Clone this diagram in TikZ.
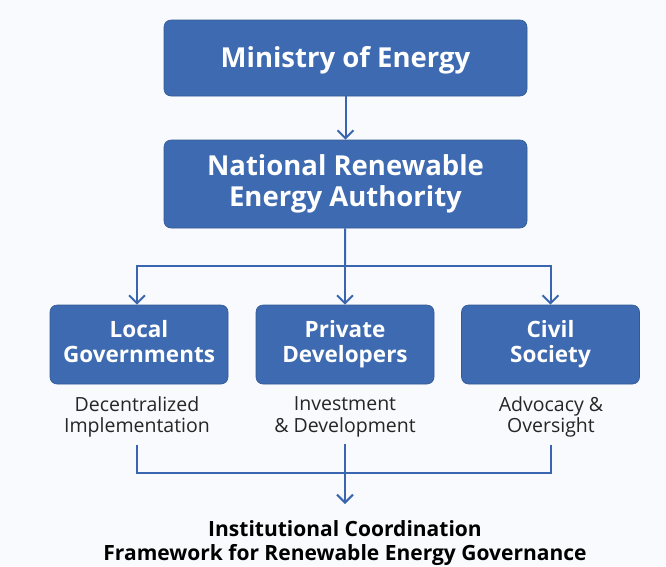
\documentclass[tikz,border=0pt]{standalone}
\usepackage{fontspec}
\setmainfont{Open Sans}
\usetikzlibrary{arrows.meta,positioning}
\definecolor{boxblue}{RGB}{61,106,176}
\definecolor{lineblue}{RGB}{58,102,176}
\definecolor{bgpaper}{RGB}{248,250,253}
\tikzset{
  unitbox/.style={draw=boxblue!85!black, line width=0.6pt, fill=boxblue, rounded corners=7pt,
    text=white, align=center, inner sep=0pt,
    execute at begin node={\vrule height 26.5pt width 0pt},
    execute at end node={\vrule depth 6.5pt width 0pt}},
  bigbox/.style={unitbox, minimum width=363pt, font=\bfseries\fontsize{27.5}{31}\selectfont},
  smallbox/.style={unitbox, minimum width=178pt, minimum height=79pt,
    font=\bfseries\fontsize{22.5}{25}\selectfont},
  roletext/.style={align=center, inner sep=0pt, text=black!85, font=\fontsize{19.5}{21.5}\selectfont,
    execute at begin node=\strut, execute at end node=\strut},
  wire/.style={draw=lineblue, line width=2pt},
  link/.style={wire, ->, >={Straight Barb[length=8pt,width=16pt]}},
}
\begin{document}
\begin{tikzpicture}[x=1pt,y=-1pt]
  \fill[bgpaper] (0,0) rectangle (666,566);
  % top of the chain
  \node[bigbox, minimum height=76pt] (ministry) at (345.5,58) {Ministry of Energy};
  \node[bigbox, minimum height=88pt] (nrea) at (345.5,184) {National Renewable\\Energy Authority};
  % the three partners
  \node[smallbox] (local) at (139,344.5) {Local\\Governments};
  \node[smallbox] (private) at (345,344.5) {Private\\Developers};
  \node[smallbox] (civil) at (550.5,344.5) {Civil\\Society};
  \node[roletext] (localrole) at (137,418) {Decentralized\\Implementation};
  \node[roletext] (privaterole) at (345,418) {Investment\\\& Development};
  \node[roletext] (civilrole) at (551,418) {Advocacy \&\\Oversight};
  \node[align=center, inner sep=0pt, font=\bfseries\fontsize{21}{24.5}\selectfont] (framework)
    at (345,543) {Institutional Coordination\\Framework for Renewable Energy Governance};
  % connectors
  \coordinate (split) at (345,266);
  \coordinate (merge) at (345,473);
  \draw[link] (ministry) -- (nrea);
  \draw[wire] (nrea) -- (split);
  \draw[link] (split) -| ([xshift=-2pt]local.north);
  \draw[link] (split) -- (private.north);
  \draw[link] (split) -| (civil.north);
  \draw[wire, shorten <=5pt] (localrole.south) |- (merge);
  \draw[wire, shorten <=5pt] (civilrole.south) |- (merge);
  \draw[wire, shorten <=5pt] (privaterole.south) -- (merge);
  \draw[link, shorten >=16pt] (merge) -- (framework.north);
\end{tikzpicture}
\end{document}
